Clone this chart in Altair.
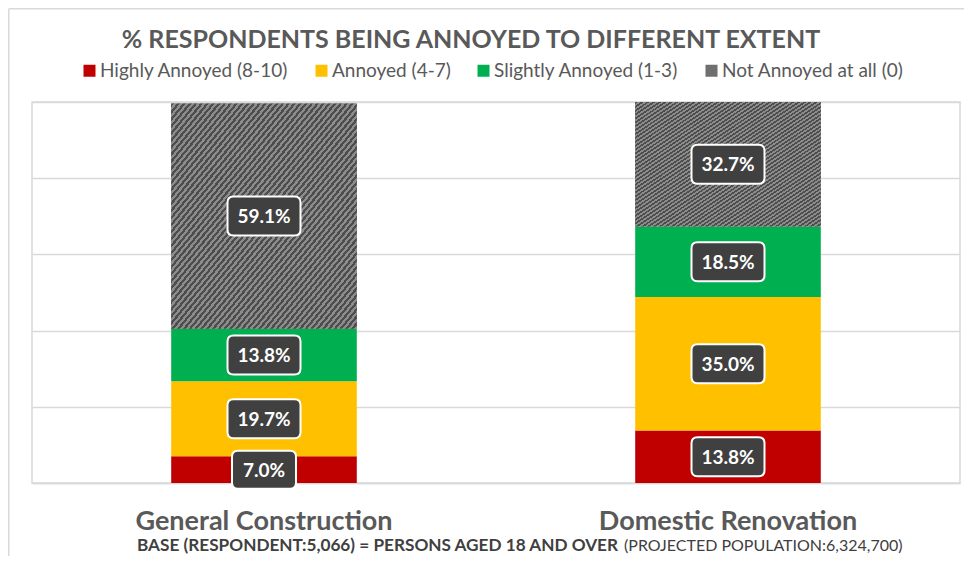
import altair as alt
import pandas as pd

# ---- data ----
categories = ["General Construction", "Domestic Renovation"]
levels = ["Highly Annoyed (8-10)", "Annoyed (4-7)", "Slightly Annoyed (1-3)", "Not Annoyed at all (0)"]
gc_values = [7.0, 19.7, 13.8, 59.1]
dr_values = [13.8, 35.0, 18.5, 32.7]
colors = ["#C00000", "#FFC000", "#00B050", "#6f6f6f"]
title_text = "% RESPONDENTS BEING ANNOYED TO DIFFERENT EXTENT"
note_bold = "BASE (RESPONDENT:5,066) = PERSONS AGED 18 AND OVER"
note_regular = "(PROJECTED POPULATION:6,324,700)"

rows = []
for cat, vals in zip(categories, [gc_values, dr_values]):
    for i, (lev, v) in enumerate(zip(levels, vals)):
        rows.append({"cat": cat, "level": lev, "ord": i, "value": v, "label": f"{v:.1f}%"})
df = pd.DataFrame(rows)

FONT = "Lato"
GRAY = "#595959"
LINE = "#d9d9d9"


def rounded_box(w, h, r):
    hw = 1.0
    hh = h / w
    rr = 2 * r / w
    return (f"M {-hw+rr:.4f},{-hh:.4f} L {hw-rr:.4f},{-hh:.4f} Q {hw},{-hh:.4f} {hw},{-hh+rr:.4f} "
            f"L {hw},{hh-rr:.4f} Q {hw},{hh:.4f} {hw-rr:.4f},{hh:.4f} L {-hw+rr:.4f},{hh:.4f} "
            f"Q {-hw},{hh:.4f} {-hw},{hh-rr:.4f} L {-hw},{-hh+rr:.4f} Q {-hw},{-hh:.4f} {-hw+rr:.4f},{-hh:.4f} Z")


box5 = rounded_box(73, 39, 6)
box4 = rounded_box(64, 38, 6)

# hatch-like fill via hard-stop gradient
stops = []
n = 64
dark, light = "#4d4d4d", "#8c8c8c"
for i in range(n):
    a, b, c = i / n, (i + 0.5) / n, (i + 1) / n
    stops += [alt.GradientStop(offset=a, color=dark), alt.GradientStop(offset=b, color=dark),
              alt.GradientStop(offset=b, color=light), alt.GradientStop(offset=c, color=light)]
hatch_fill = alt.LinearGradient(gradient="linear", stops=stops, x1=0, y1=0, x2=1, y2=1)

base = alt.Chart(df).transform_stack(
    stack="value", groupby=["cat"], sort=[alt.SortField("ord", order="ascending")], as_=["y0", "y1"]
).transform_calculate(mid="(datum.y0 + datum.y1) / 2")

xenc = alt.X("cat:N", sort=categories,
             scale=alt.Scale(paddingInner=0.6, paddingOuter=0.3),
             axis=alt.Axis(title=None, labelAngle=0, labelFont=FONT, labelFontSize=27,
                           labelFontWeight="bold", labelColor=GRAY, labelPadding=25, labelLimit=0,
                           ticks=False, domainColor=LINE, domainWidth=1.5))
yscale = alt.Scale(domain=[0, 100], nice=False)

bars = base.mark_bar().encode(
    x=xenc,
    y=alt.Y("y0:Q", scale=yscale,
            axis=alt.Axis(title=None, labels=False, ticks=False, domain=False,
                          values=[0, 20, 40, 60, 80, 100], gridColor=LINE, gridWidth=1.5)),
    y2="y1:Q",
    color=alt.Color("level:N", sort=levels, scale=alt.Scale(domain=levels, range=colors),
                    legend=alt.Legend(title=None, orient="none", legendX=48, legendY=-41,
                                      direction="horizontal", symbolType="square", symbolSize=144,
                                      symbolStrokeWidth=0, labelFont=FONT, labelFontSize=19,
                                      labelColor=GRAY, labelOffset=1, columnPadding=23, labelLimit=0)),
)

hatch = base.transform_filter("datum.ord == 3").mark_bar(fill=hatch_fill).encode(
    x=alt.X("cat:N", sort=categories), y="y0:Q", y2="y1:Q"
)

cond = "length(datum.label) <= 4"
boxes = base.mark_point(filled=True, fill="#404040", stroke="white", strokeWidth=2, opacity=1).encode(
    x=alt.X("cat:N", sort=categories),
    y="mid:Q",
    shape=alt.condition(cond, alt.value(box4), alt.value(box5)),
    size=alt.condition(cond, alt.value(64 * 64), alt.value(73 * 73)),
)

labels = base.mark_text(font=FONT, fontWeight="bold", fontSize=19, color="white", baseline="middle", dy=1).encode(
    x=alt.X("cat:N", sort=categories), y="mid:Q", text="label:N"
)

title = alt.Chart(pd.DataFrame({"t": [title_text]})).mark_text(
    font=FONT, fontWeight="bold", fontSize=25, color=GRAY, baseline="middle", align="center"
).encode(text="t:N", x=alt.value(439), y=alt.value(-62))

note1 = alt.Chart(pd.DataFrame({"t": [note_bold]})).mark_text(
    font=FONT, fontWeight="bold", fontSize=17.2, color="#404040", baseline="alphabetic", align="left"
).encode(text="t:N", x=alt.value(105), y=alt.value(449))

note2 = alt.Chart(pd.DataFrame({"t": [note_regular]})).mark_text(
    font=FONT, fontSize=16, color="#404040", baseline="alphabetic", align="left"
).encode(text="t:N", x=alt.value(592), y=alt.value(449))

frame_data = pd.DataFrame({"k": [0]})
frame_left = alt.Chart(frame_data).mark_rule(color=LINE, strokeWidth=1.5).encode(
    x=alt.value(-23.25), y=alt.value(-93.25), y2=alt.value(460))
frame_top = alt.Chart(frame_data).mark_rule(color=LINE, strokeWidth=1.5).encode(
    x=alt.value(-23.25), x2=alt.value(950), y=alt.value(-93.25))

chart = alt.layer(
    bars, hatch, boxes, labels, title, note1, note2, frame_left, frame_top
).properties(
    width=928, height=381,
    autosize=alt.AutoSizeParams(type="none"),
    padding={"left": 24, "top": 94, "right": 4, "bottom": 73},
    background="white",
).configure_view(stroke=LINE, strokeWidth=1.5)

chart.save("out.html", embed_options={"renderer": "svg", "actions": False})
